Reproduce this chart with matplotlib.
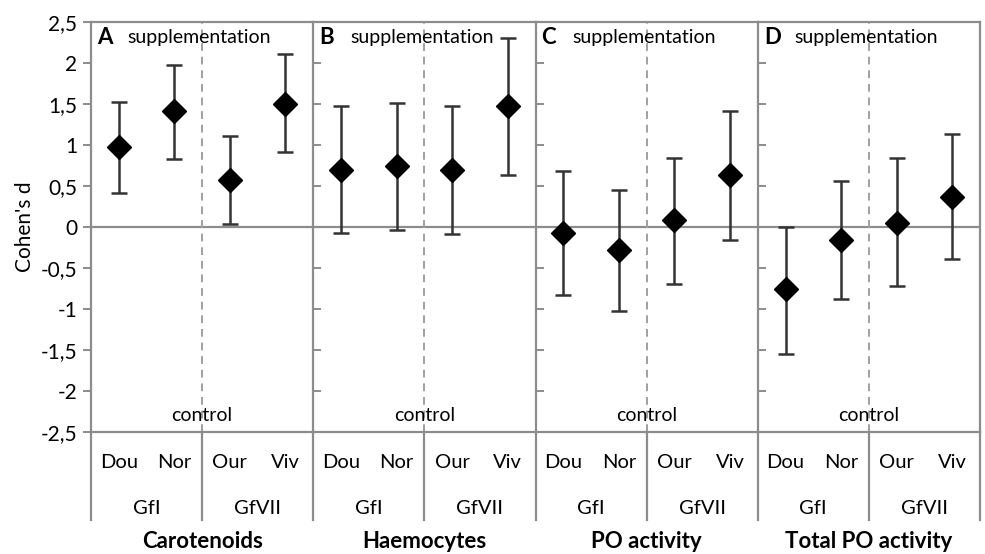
import matplotlib.pyplot as plt
from matplotlib.ticker import FuncFormatter, MultipleLocator

plt.rcParams['font.family'] = ['Lato', 'DejaVu Sans']

panels = ['Carotenoids', 'Haemocytes', 'PO activity', 'Total PO activity']
letters = ['A', 'B', 'C', 'D']
populations = ['Dou', 'Nor', 'Our', 'Viv']
lines = ['GfI', 'GfVII']

# Cohen's d with lower/upper confidence limits, one row per panel
d_mean = [
    [0.97, 1.41, 0.57, 1.50],
    [0.70, 0.75, 0.70, 1.47],
    [-0.07, -0.28, 0.08, 0.63],
    [-0.76, -0.16, 0.05, 0.37],
]
d_low = [
    [0.41, 0.83, 0.04, 0.92],
    [-0.07, -0.04, -0.09, 0.63],
    [-0.83, -1.02, -0.69, -0.16],
    [-1.55, -0.88, -0.72, -0.39],
]
d_high = [
    [1.53, 1.97, 1.11, 2.11],
    [1.47, 1.51, 1.47, 2.30],
    [0.68, 0.45, 0.84, 1.42],
    [0.00, 0.56, 0.84, 1.14],
]

frame = '#8c8c8c'
W, H = 985, 554
fig = plt.figure(figsize=(W / 100, H / 100), dpi=100)
left, right, top, bottom = 91, 980, 22, 432
pw = (right - left) / 4
below = -(520 - bottom) / (bottom - top)


def comma(v, pos):
    s = ('%g' % v).replace('.', ',')
    return s


for k in range(4):
    ax = fig.add_axes([(left + k * pw) / W, (H - bottom) / H, pw / W, (bottom - top) / H])
    x = list(range(4))
    yerr = [[d_mean[k][i] - d_low[k][i] for i in x], [d_high[k][i] - d_mean[k][i] for i in x]]
    ax.errorbar(x, d_mean[k], yerr=yerr, fmt='D', color='black', ms=12,
                ecolor='#333333', elinewidth=1.8, capsize=6, capthick=1.8, zorder=3)
    ax.set_xlim(-0.5, 3.5)
    ax.set_ylim(-2.5, 2.5)
    ax.yaxis.set_major_locator(MultipleLocator(0.5))
    ax.set_xticks([])
    ax.axhline(0, color=frame, lw=1.6, zorder=1)
    ax.axvline(1.5, color='#a0a0a0', lw=1.4, ls=(0, (4, 3)), zorder=1)
    for side in ['left', 'top', 'bottom', 'right']:
        ax.spines[side].set_color(frame)
        ax.spines[side].set_linewidth(1.6)
    if k < 3:
        ax.spines['right'].set_visible(False)
    if k == 0:
        ax.tick_params(axis='y', direction='out', length=6, width=1.4, color=frame,
                       labelsize=15, pad=4)
        ax.yaxis.set_major_formatter(FuncFormatter(comma))
        ax.set_ylabel("Cohen's d", fontsize=15, labelpad=4)
    else:
        ax.tick_params(axis='y', direction='in', length=6, width=1.4, color=frame,
                       labelleft=False)

    # category box below the plot
    trans = ax.get_xaxis_transform()
    for xv in [-0.5, 1.5, 3.5]:
        if xv == 3.5 and k < 3:
            continue
        ax.plot([xv, xv], [0, below], color=frame, lw=1.6, transform=trans, clip_on=False)
    for i, p in enumerate(populations):
        ax.text(i, -31 / 410, p, transform=trans, ha='center', va='center', fontsize=14.5)
    for j, g in enumerate(lines):
        ax.text(0.5 + 2 * j, -76 / 410, g, transform=trans, ha='center', va='center', fontsize=14.5)
    ax.text(1.5, -109 / 410, panels[k], transform=trans, ha='center', va='center',
            fontsize=16, fontweight='bold')

    ax.text(0.027, 0.962, letters[k], transform=ax.transAxes, ha='left', va='center',
            fontsize=16, fontweight='bold')
    ax.text(0.165, 0.962, 'supplementation', transform=ax.transAxes, ha='left', va='center',
            fontsize=14)
    ax.text(0.5, 0.04, 'control', transform=ax.transAxes, ha='center', va='center',
            fontsize=14)

fig.savefig('out.png', dpi=100)
